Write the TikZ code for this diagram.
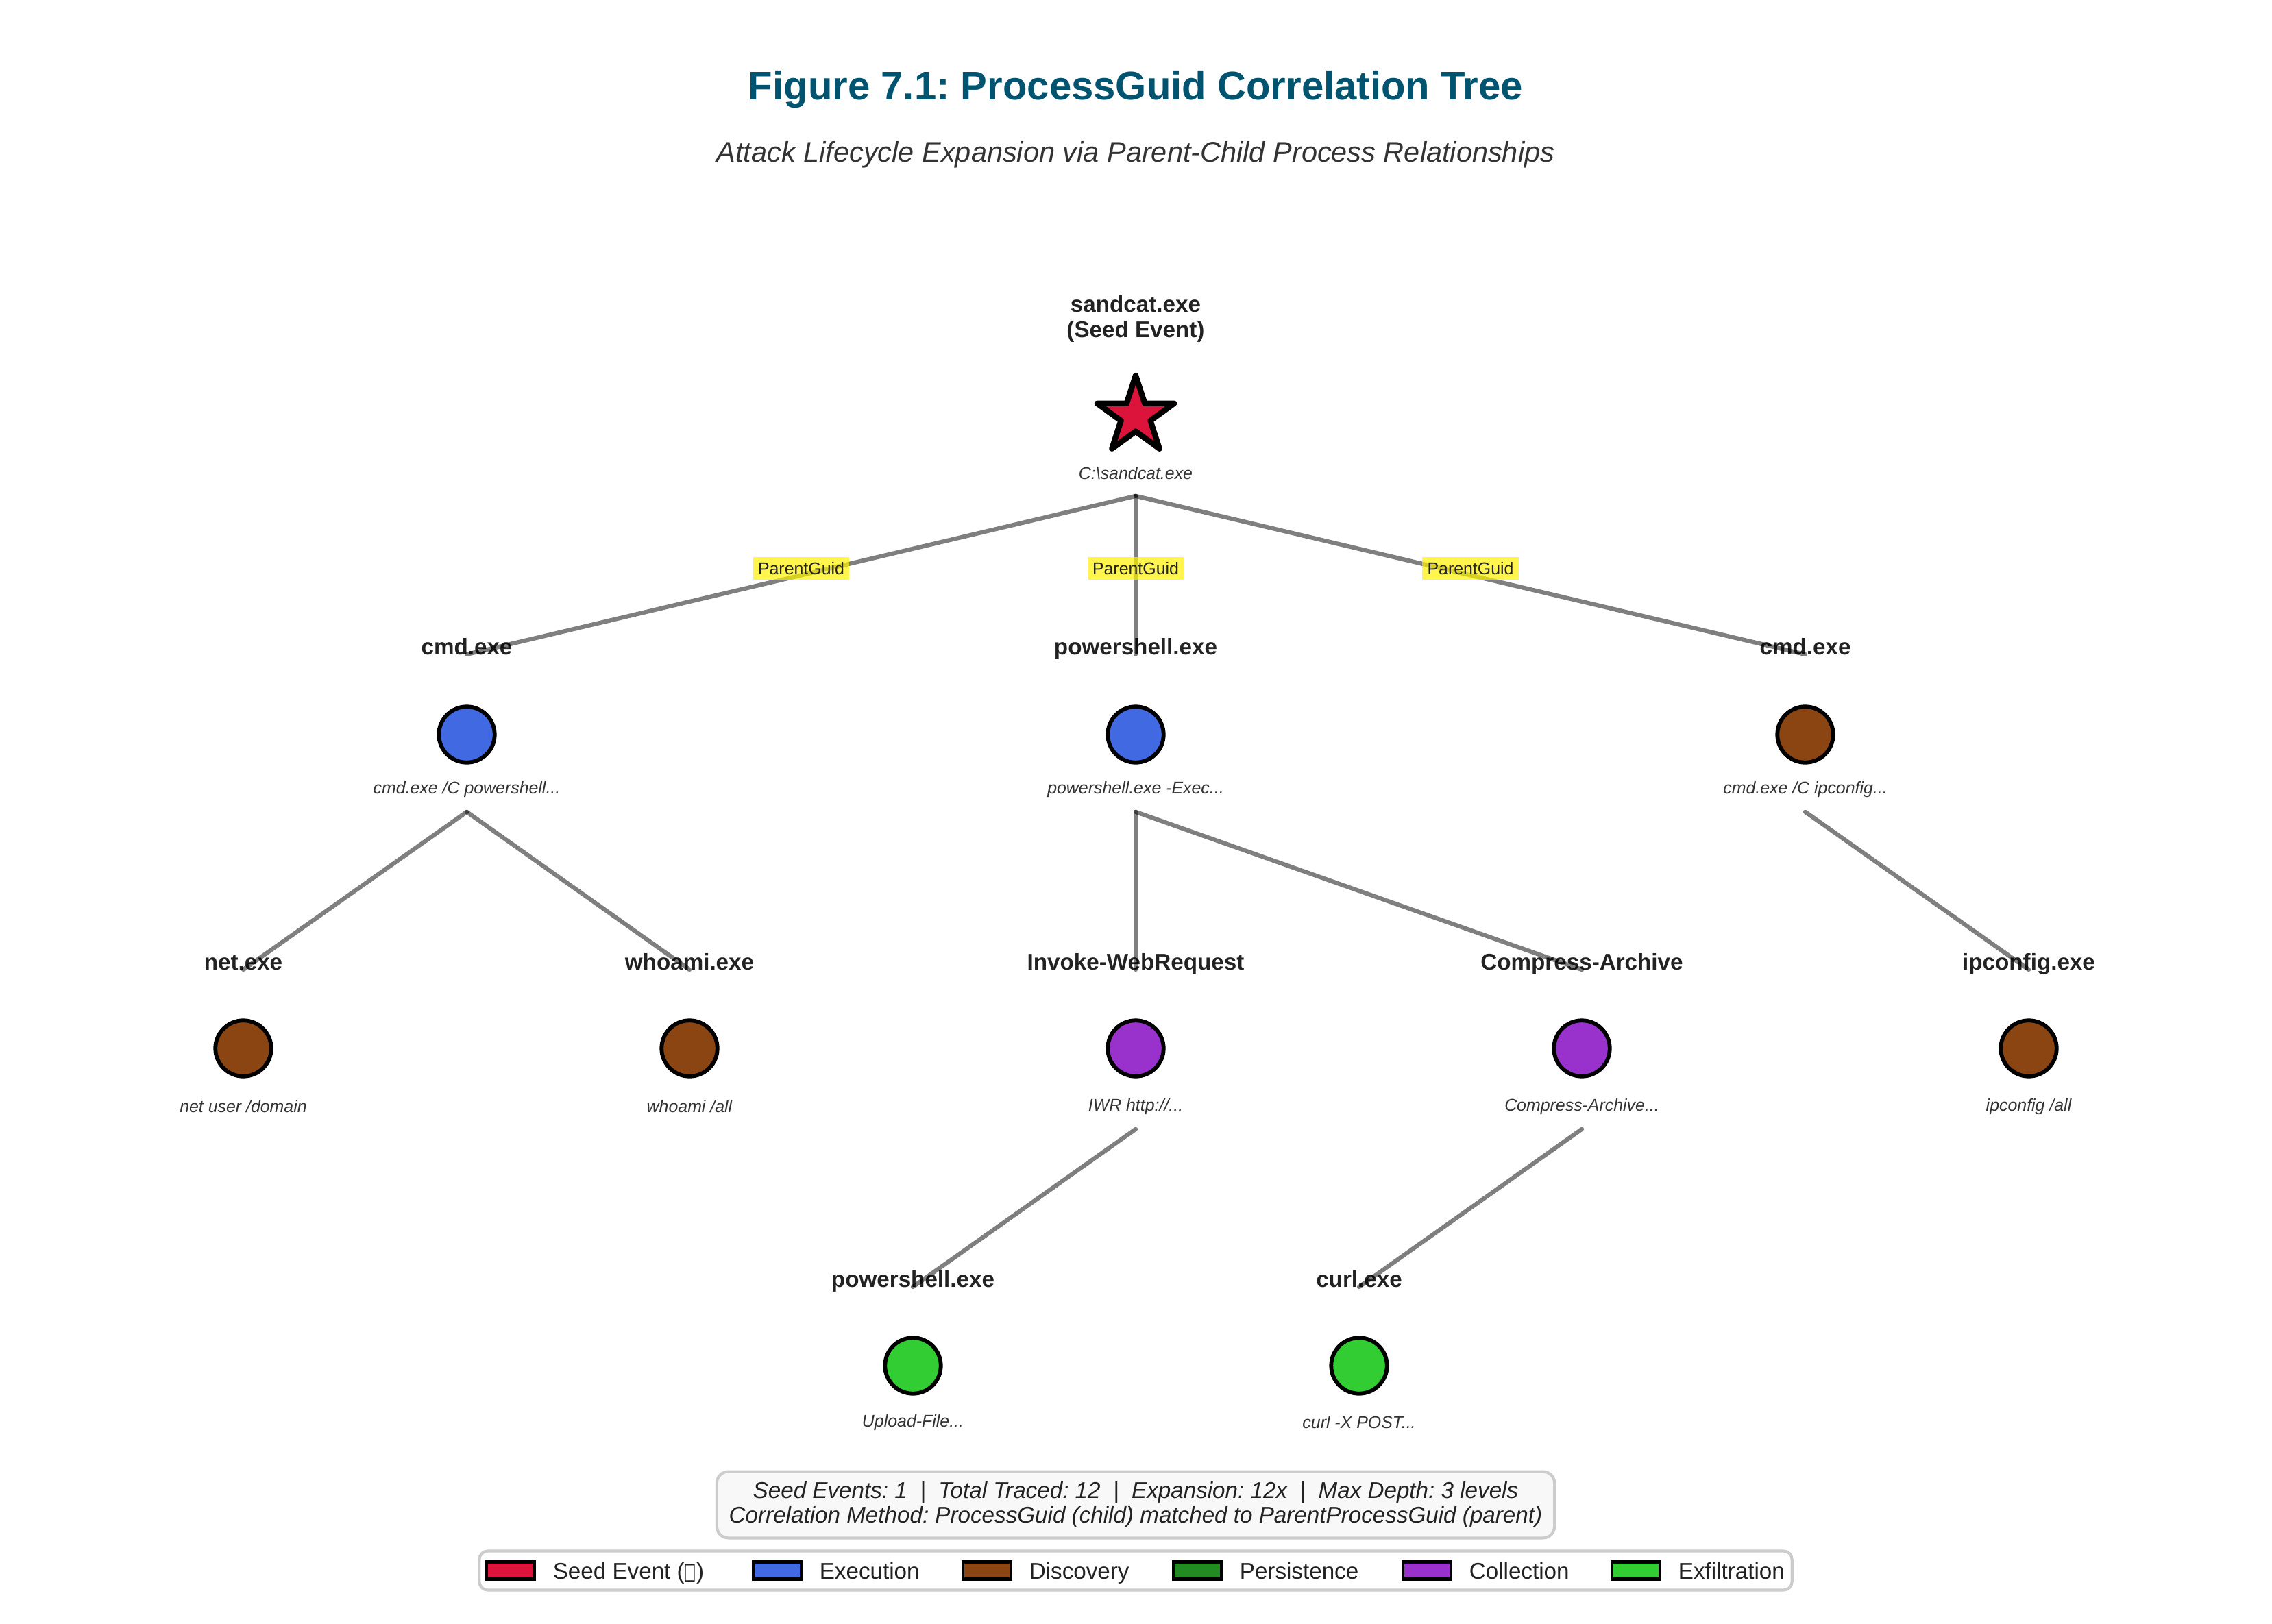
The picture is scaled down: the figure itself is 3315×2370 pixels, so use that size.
\documentclass[tikz,border=0pt]{standalone}
\usepackage{fontspec}
\setmainfont{Liberation Sans}
\newfontfamily\symfont{DejaVu Sans}
\usetikzlibrary{shapes.geometric}
\frenchspacing
\definecolor{mytitle}{RGB}{0,84,112}
\definecolor{mytext}{RGB}{34,34,34}
\definecolor{mycmd}{RGB}{51,51,51}
\definecolor{myframe}{RGB}{204,204,204}
\definecolor{mystatfill}{RGB}{248,248,248}
\definecolor{myseed}{RGB}{220,20,60}
\definecolor{myexec}{RGB}{65,105,225}
\definecolor{mydisc}{RGB}{139,69,19}
\definecolor{mypers}{RGB}{34,139,34}
\definecolor{mycoll}{RGB}{153,50,204}
\definecolor{myexfil}{RGB}{50,205,50}

\begin{document}
\begin{tikzpicture}[x=0.008467cm,y=-0.008467cm,
    procdot/.style={circle,draw=black,line width=1.4pt,minimum size=0.69cm,inner sep=0pt},
    procname/.style={font=\fontsize{8}{8.8}\selectfont\bfseries,text=mytext,anchor=base,inner sep=0pt},
    proccmd/.style={font=\fontsize{6}{7}\selectfont\itshape,text=mycmd,minimum height=0.542cm,inner sep=0pt},
    tree/.style={draw=black,draw opacity=0.5,line width=1.5pt,line cap=round},
    guid/.style={fill=yellow,fill opacity=0.7,text opacity=1,text=mytext,font=\fontsize{6}{7}\selectfont,inner sep=1.8pt,yshift=2.4pt},
    legpatch/.style={draw=black,line width=1pt,minimum width=0.593cm,minimum height=0.212cm,inner sep=0pt},
    legtext/.style={font=\fontsize{8}{9.6}\selectfont,text=mytext,anchor=base west,inner sep=0pt}]
  \useasboundingbox (0,0) rectangle (3315,2370);
  \fill[white] (0,0) rectangle (3315,2370);
  % title
  \node[font=\fontsize{14}{16}\selectfont\bfseries,text=mytitle] (title) at (1657,131) {Figure 7.1: ProcessGuid Correlation Tree};
  \node[font=\fontsize{10}{12}\selectfont\itshape,text=mycmd] (subtitle) at (1657,226) {Attack Lifecycle Expansion via Parent-Child Process Relationships};
  % seed event
  \node[star,star points=5,star point ratio=2.618,minimum size=1.0cm,inner sep=0pt,draw=black,line width=2pt,line join=round,fill=myseed] (root) at (1657,607) {};
  \node[procname,anchor=south,align=center] (root-n) at (1657,500) {sandcat.exe\\(Seed Event)};
  \node[proccmd] (root-c) at (1657,691) {C:\textbackslash sandcat.exe};
  % depth 1
  \node[procdot,fill=myexec] (cmdA) at (681,1072) {};
    \node[procname] (cmdA-n) at (681,955) {cmd.exe};
    \node[proccmd] (cmdA-c) at (681,1152) {cmd.exe /C powershell...};
  \node[procdot,fill=myexec] (psA) at (1657,1072) {};
    \node[procname] (psA-n) at (1657,955) {powershell.exe};
    \node[proccmd] (psA-c) at (1657,1152) {powershell.exe -Exec...};
  \node[procdot,fill=mydisc] (cmdB) at (2634,1072) {};
    \node[procname] (cmdB-n) at (2634,955) {cmd.exe};
    \node[proccmd] (cmdB-c) at (2634,1152) {cmd.exe /C ipconfig...};
  % depth 2
  \node[procdot,fill=mydisc] (net) at (355,1530) {};
    \node[procname] (net-n) at (355,1415) {net.exe};
    \node[proccmd] (net-c) at (355,1615) {net user /domain};
  \node[procdot,fill=mydisc] (whoami) at (1006,1530) {};
    \node[procname] (whoami-n) at (1006,1415) {whoami.exe};
    \node[proccmd] (whoami-c) at (1006,1615) {whoami /all};
  \node[procdot,fill=mycoll] (iwr) at (1657,1530) {};
    \node[procname] (iwr-n) at (1657,1415) {Invoke-WebRequest};
    \node[proccmd] (iwr-c) at (1657,1615) {IWR http://...};
  \node[procdot,fill=mycoll] (compress) at (2308,1530) {};
    \node[procname] (compress-n) at (2308,1415) {Compress-Archive};
    \node[proccmd] (compress-c) at (2308,1615) {Compress-Archive...};
  \node[procdot,fill=mydisc] (ipconfig) at (2960,1530) {};
    \node[procname] (ipconfig-n) at (2960,1415) {ipconfig.exe};
    \node[proccmd] (ipconfig-c) at (2960,1615) {ipconfig /all};
  % depth 3
  \node[procdot,fill=myexfil] (psB) at (1332,1993) {};
    \node[procname] (psB-n) at (1332,1878) {powershell.exe};
    \node[proccmd] (psB-c) at (1332,2076) {Upload-File...};
  \node[procdot,fill=myexfil] (curl) at (1983,1993) {};
    \node[procname] (curl-n) at (1983,1878) {curl.exe};
    \node[proccmd] (curl-c) at (1983,2076) {curl -X POST...};
  % parent -> child links
  \draw[tree] (root-c.south) -- node[guid] {ParentGuid} (cmdA-n.base);
  \draw[tree] (root-c.south) -- node[guid] {ParentGuid} (psA-n.base);
  \draw[tree] (root-c.south) -- node[guid] {ParentGuid} (cmdB-n.base);
  \draw[tree] (cmdA-c.south) -- (net-n.base);
  \draw[tree] (cmdA-c.south) -- (whoami-n.base);
  \draw[tree] (psA-c.south) -- (iwr-n.base);
  \draw[tree] (psA-c.south) -- (compress-n.base);
  \draw[tree] (cmdB-c.south) -- (ipconfig-n.base);
  \draw[tree] (iwr-c.south) -- (psB-n.base);
  \draw[tree] (compress-c.south) -- (curl-n.base);
  % summary box
  \node[draw=myframe,line width=1pt,fill=mystatfill,rounded corners=4pt,minimum width=10.35cm,minimum height=0.82cm,
    align=center,font=\fontsize{8}{8.8}\selectfont\itshape,text=mytext] (stats) at (1657,2196)
    {Seed Events: 1\ \ |\ \ Total Traced: 12\ \ |\ \ Expansion: 12x\ \ |\ \ Max Depth: 3 levels\\
     Correlation Method: ProcessGuid (child) matched to ParentProcessGuid (parent)};
  % legend
  \node[draw=myframe,line width=1pt,fill=white,rounded corners=3pt,minimum width=16.22cm,minimum height=0.483cm] (legend) at (1657,2292) {};
  \foreach \px/\c/\t [count=\i] in {710/myseed/Seed Event ({\symfont\scalebox{0.55}[1]{□}}),1099/myexec/Execution,1405/mydisc/Discovery,
      1712/mypers/Persistence,2047/mycoll/Collection,2352/myexfil/Exfiltration} {
    \node[legpatch,fill=\c] (patch\i) at (\px+35,2292) {};
    \node[legtext] (legtext\i) at (\px+96,2304) {\t};}
\end{tikzpicture}
\end{document}
